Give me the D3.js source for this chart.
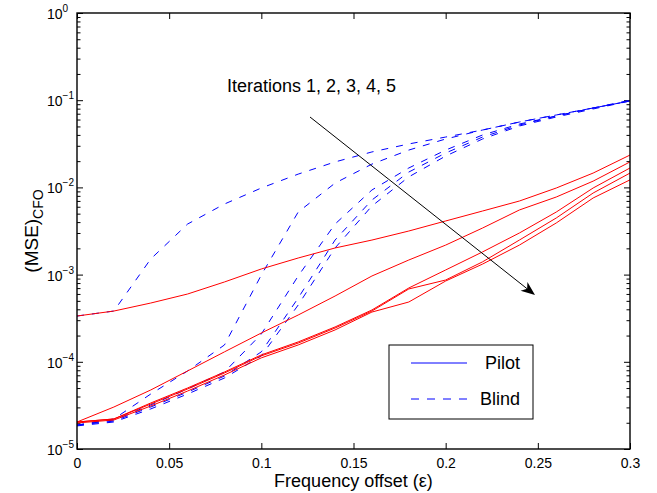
<!DOCTYPE html>
<html>
<head>
<meta charset="utf-8">
<script src="https://cdn.jsdelivr.net/npm/d3@7"></script>
<style>
  body { margin: 0; background: #fff; }
  svg { display: block; font-family: "Liberation Sans", Arial, sans-serif; }
</style>
</head>
<body>
<svg id="chart" width="657" height="493"></svg>
<script>
// frequency offset samples
const epsilon = [0, 0.02, 0.04, 0.06, 0.08, 0.1, 0.12, 0.14, 0.16, 0.18, 0.2, 0.22, 0.24, 0.26, 0.28, 0.3];

// pilot based, iterations 1..5
const pilotIter1 = [3.35e-4, 3.82e-4, 4.72e-4, 5.99e-4, 8.23e-4, 1.16e-3, 1.55e-3, 2.02e-3, 2.49e-3, 3.16e-3, 4.12e-3, 5.36e-3, 6.98e-3, 9.84e-3, 1.46e-2, 2.35e-2];
const pilotIter2 = [2.04e-5, 3.03e-5, 4.75e-5, 7.85e-5, 1.30e-4, 2.14e-4, 3.44e-4, 5.68e-4, 9.64e-4, 1.47e-3, 2.18e-3, 3.42e-3, 5.51e-3, 7.76e-3, 1.18e-2, 1.96e-2];
const pilotIter3 = [2.04e-5, 2.21e-5, 3.37e-5, 5.01e-5, 7.64e-5, 1.20e-4, 1.69e-4, 2.51e-4, 3.93e-4, 7.02e-4, 1.13e-3, 1.82e-3, 3.00e-3, 5.22e-3, 9.84e-3, 1.67e-2];
const pilotIter4 = [2.04e-5, 2.21e-5, 3.28e-5, 4.88e-5, 7.44e-5, 1.17e-4, 1.64e-4, 2.44e-4, 3.82e-4, 6.84e-4, 8.67e-4, 1.40e-3, 2.49e-3, 4.46e-3, 8.62e-3, 1.46e-2];
const pilotIter5 = [1.99e-5, 2.15e-5, 3.11e-5, 4.62e-5, 7.06e-5, 1.11e-4, 1.56e-4, 2.32e-4, 3.72e-4, 4.85e-4, 8.44e-4, 1.32e-3, 2.18e-3, 3.91e-3, 7.56e-3, 1.22e-2];

// blind, iterations 1..5
const blindIter1 = [3.35e-4, 3.82e-4, 1.51e-3, 3.80e-3, 6.45e-3, 9.84e-3, 1.42e-2, 1.96e-2, 2.55e-2, 3.15e-2, 3.78e-2, 4.55e-2, 5.62e-2, 6.77e-2, 8.14e-2, 9.79e-2];
const blindIter2 = [1.88e-5, 2.21e-5, 4.27e-5, 7.85e-5, 1.56e-4, 9.90e-4, 5.22e-3, 1.12e-2, 1.85e-2, 2.68e-2, 3.59e-2, 4.55e-2, 5.62e-2, 6.77e-2, 8.14e-2, 9.79e-2];
const blindIter3 = [1.88e-5, 2.15e-5, 3.20e-5, 4.88e-5, 7.64e-5, 2.08e-4, 9.64e-4, 3.80e-3, 9.34e-3, 1.67e-2, 2.68e-2, 3.99e-2, 5.33e-2, 6.59e-2, 8.14e-2, 9.79e-2];
const blindIter4 = [1.88e-5, 2.09e-5, 3.03e-5, 4.50e-5, 6.87e-5, 1.30e-4, 5.39e-4, 2.49e-3, 7.17e-3, 1.50e-2, 2.48e-2, 3.78e-2, 5.19e-2, 6.59e-2, 8.14e-2, 1.00e-1];
const blindIter5 = [1.84e-5, 2.04e-5, 2.88e-5, 4.27e-5, 6.52e-5, 1.17e-4, 4.48e-4, 2.02e-3, 6.12e-3, 1.32e-2, 2.29e-2, 3.59e-2, 5.06e-2, 6.42e-2, 7.93e-2, 9.79e-2];

const xTicks = [0, 0.05, 0.1, 0.15, 0.2, 0.25, 0.3];
const xTickLabels = ["0", "0.05", "0.1", "0.15", "0.2", "0.25", "0.3"];
const yTickExps = [0, -1, -2, -3, -4, -5];
const legendLabels = ["Pilot", "Blind"];
const annotation = "Iterations 1, 2, 3, 4, 5";

const svg = d3.select('#chart');
const pl = 77, pr = 630, pt = 13, pb = 449;

const x = d3.scaleLinear().domain([0, 0.3]).range([pl, pr]);
const y = d3.scaleLog().domain([1e-5, 1]).range([pb, pt]);

const yMajor = yTickExps.map(e => Math.pow(10, e));
const yMinor = [];
yTickExps.slice(1).forEach(e => {
  for (let m = 2; m < 10; m++) yMinor.push(m * Math.pow(10, e));
});

// ticks (inward, on all four sides)
function tidy(g) {
  g.select('.domain').remove();
  g.selectAll('line').attr('stroke', '#000').attr('stroke-width', 1);
}
svg.append('g').attr('transform', `translate(0,${pb})`)
  .call(d3.axisBottom(x).tickValues(xTicks).tickSize(-6).tickPadding(9)
    .tickFormat((d, i) => xTickLabels[i]))
  .call(tidy)
  .call(g => g.selectAll('text').attr('font-size', 14).attr('fill', '#000')
    .attr('font-family', '"Liberation Sans", Arial, sans-serif'));
svg.append('g').attr('transform', `translate(0,${pt})`)
  .call(d3.axisTop(x).tickValues(xTicks).tickSize(-6).tickFormat(''))
  .call(tidy);

[[d3.axisLeft, pl], [d3.axisRight, pr]].forEach(([ax, pos]) => {
  svg.append('g').attr('transform', `translate(${pos},0)`)
    .call(ax(y).tickValues(yMajor).tickSize(-6).tickFormat(''))
    .call(tidy);
  svg.append('g').attr('transform', `translate(${pos},0)`)
    .call(ax(y).tickValues(yMinor).tickSize(-3.5).tickFormat(''))
    .call(tidy);
});

// y tick labels 10^k
const yl = svg.append('g').attr('font-size', 14).attr('fill', '#000');
yTickExps.forEach(e => {
  const t = yl.append('text').attr('x', 47).attr('y', y(Math.pow(10, e)) + 6);
  t.append('tspan').text('10');
  t.append('tspan').attr('dy', -7).attr('font-size', 10)
    .text(e === 0 ? '0' : '\u2212' + Math.abs(e));
});

// curves
const line = d3.line().x((d, i) => x(epsilon[i])).y(d => y(d));
const blind = [blindIter1, blindIter2, blindIter3, blindIter4, blindIter5];
const pilot = [pilotIter1, pilotIter2, pilotIter3, pilotIter4, pilotIter5];

svg.append('g').selectAll('path').data(blind).join('path')
  .attr('d', line).attr('fill', 'none').attr('stroke', '#0000ff')
  .attr('stroke-width', 1).attr('stroke-dasharray', '7,8');
svg.append('g').selectAll('path').data(pilot).join('path')
  .attr('d', line).attr('fill', 'none').attr('stroke', '#ff0000')
  .attr('stroke-width', 1);

// box
svg.append('rect').attr('x', pl).attr('y', pt)
  .attr('width', pr - pl).attr('height', pb - pt)
  .attr('fill', 'none').attr('stroke', '#000').attr('stroke-width', 1.4);

// axis titles
svg.append('text').attr('x', (pl + pr) / 2).attr('y', 487)
  .attr('text-anchor', 'middle').attr('font-size', 18).text('Frequency offset (\u03b5)');
const yt = svg.append('text').attr('transform', `translate(38,${(pt + pb) / 2}) rotate(-90)`)
  .attr('text-anchor', 'middle').attr('font-size', 19);
yt.append('tspan').text('(MSE)');
yt.append('tspan').attr('dy', 5).attr('font-size', 14).text('CFO');

// annotation arrow
const a0 = [310, 117], a1 = [535, 295];
const dx = a1[0] - a0[0], dy = a1[1] - a0[1], len = Math.hypot(dx, dy);
const ux = dx / len, uy = dy / len, nx = -uy, ny = ux;
const hl = 14, hw = 5.5, notch = 10;
svg.append('line').attr('x1', a0[0]).attr('y1', a0[1])
  .attr('x2', a1[0] - ux * notch).attr('y2', a1[1] - uy * notch)
  .attr('stroke', '#000').attr('stroke-width', 1);
svg.append('path').attr('fill', '#000').attr('d',
  `M${a1[0]},${a1[1]}` +
  `L${a1[0] - ux * hl + nx * hw},${a1[1] - uy * hl + ny * hw}` +
  `L${a1[0] - ux * notch},${a1[1] - uy * notch}` +
  `L${a1[0] - ux * hl - nx * hw},${a1[1] - uy * hl - ny * hw}Z`);
svg.append('text').attr('x', 227).attr('y', 92).attr('font-size', 18).text(annotation);

// legend
const lg = svg.append('g');
lg.append('rect').attr('x', 389).attr('y', 345).attr('width', 144).attr('height', 74)
  .attr('fill', '#fff').attr('stroke', '#000').attr('stroke-width', 1);
legendLabels.forEach((name, i) => {
  const ly = i === 0 ? 363 : 399;
  lg.append('line').attr('x1', 411).attr('x2', 467).attr('y1', ly).attr('y2', ly)
    .attr('stroke', '#0000ff').attr('stroke-width', 1)
    .attr('stroke-dasharray', i === 0 ? null : '8,8');
  lg.append('text').attr('x', 520).attr('y', ly + 6).attr('text-anchor', 'end')
    .attr('font-size', 18).text(name);
});
</script>
</body>
</html>
